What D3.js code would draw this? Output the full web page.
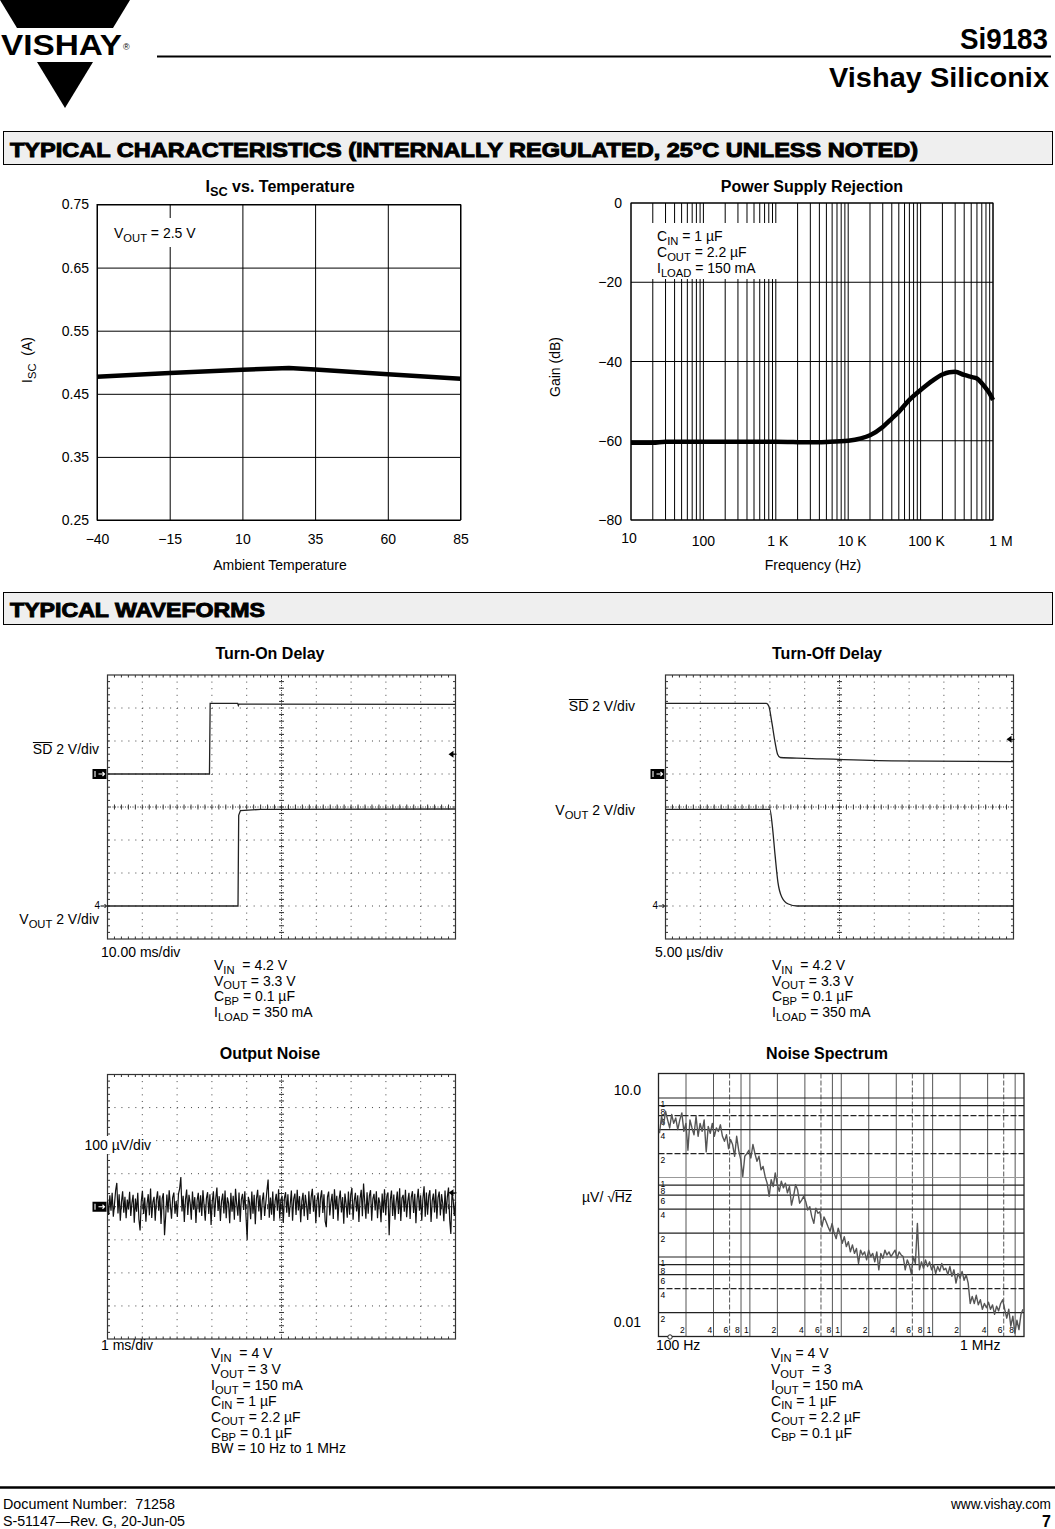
<!DOCTYPE html>
<html>
<head>
<meta charset="utf-8">
<script src="https://cdn.jsdelivr.net/npm/d3@7"></script>
<style>
body { margin: 0; background: #fff; }
svg text { font-family: "Liberation Sans", Arial, Helvetica, sans-serif; white-space: pre; fill: #000; }
</style>
</head>
<body>
<script>
"use strict";

// ---------------- ISC vs. Temperature
var tempC = [-40, -15, 10, 26, 35, 60, 85];
var iscA = [0.477, 0.483, 0.488, 0.491, 0.4886, 0.481, 0.474];
var tempTicks = [-40, -15, 10, 35, 60, 85];
var iscTicks = [0.25, 0.35, 0.45, 0.55, 0.65, 0.75];

// ---------------- Power Supply Rejection
var psrFreq = [10, 20, 30, 100, 1000, 3000, 5000, 10000, 15000, 20000, 30000, 40000, 50000, 70000,
    100000, 150000, 200000, 250000, 300000, 400000, 500000, 600000, 700000, 800000, 900000, 1000000];
var psrGain = [-60.5, -60.5, -60.25, -60.25, -60.25, -60.4, -60.3, -60.0, -59.4, -58.6, -56.5, -54.4, -52.7, -49.7,
    -47.2, -44.7, -43.3, -42.7, -42.6, -43.4, -43.9, -44.3, -45.5, -46.8, -48.1, -49.7];
var psrGainTicks = [0, -20, -40, -60, -80];
var psrFreqTicks = [10, 100, 1000, 10000, 100000, 1000000];
var psrFreqLabels = ["10", "100", "1 K", "10 K", "100 K", "1 M"];

// ---------------- Turn-On Delay (time in divisions, volts)
var onSdTime = [0, 2.93, 2.95, 3.74, 3.76, 3.78, 10];
var onSdVolts = [0, 0, 4.28, 4.28, 4.15, 4.24, 4.22];
var onVoutTime = [0, 3.75, 3.77, 3.82, 4.4, 10];
var onVoutVolts = [0, 0, 5.5, 5.78, 5.86, 5.88];
var onTrigVolts = 1.2;

// ---------------- Turn-Off Delay
var offSdTime = [0, 2.9, 2.97, 3.05, 3.15, 3.22, 3.3, 4.0, 6.5, 10];
var offSdVolts = [4.28, 4.28, 4.1, 3.2, 1.9, 1.2, 1.0, 0.95, 0.8, 0.75];
var offVoutTime = [0, 3.0, 3.07, 3.15, 3.23, 3.34, 3.53, 3.78, 10];
var offVoutVolts = [5.86, 5.86, 4.85, 3.05, 1.45, 0.55, 0.12, 0, 0];
var offTrigVolts = 2.1;

// ---------------- Output Noise (µV, samples across 10 divisions)
var noiseUv = [
    18, -25, 35, -12, 42, -30, 8, 50, 72, -20, 38, -42, 14, 47, -18, 30, -35, 22, -8, 45,
    -28, 12, 36, -48, 25, -15, 42, -38, -72, 16, 48, -22, 28, -45, 9, 38, -26, 55, -34, 14,
    30, -42, 20, 47, -12, 34, -52, 25, 41, -86, -28, 37, -17, 50, 6, -36, 28, 43, -21, 17,
    -31, 39, 55, 90, -14, 33, -46, 21, 52, -25, 36, 12, -39, 46, -9, 29, -49, 19, 42, -17,
    35, -28, 50, 3, -42, 26, 44, -22, 38, -55, 15, 47, -31, 24, 58, -13, 32, -43, 18, 40,
    -20, 49, -35, 28, 11, -50, 42, -15, 33, -39, 54, 8, -27, 43, -46, 22, 39, -10, 47, -29,
    -100, 30, 14, -38, 46, -21, 36, -53, 25, 51, -14, 35, -40, 19, 43, -28, 12, 50, 82, -33,
    28, -24, 46, -43, 17, 39, -12, 53, -36, 21, 33, -49, 26, 44, -18, 38, -31, 8, 49, -42,
    24, 40, -25, 51, -11, 32, -47, 18, 42, -29, 36, 6, -40, 47, -22, 29, 54, -15, 35, -50,
    19, 43, -32, 26, 50, -19, 38, -44, -62, 30, 46, -26, 14, 39, -37, 53, -8, 33, -42, 22,
    49, -17, 29, -51, 40, 10, -33, 46, -24, 36, 57, -39, 18, 42, -14, 35, -46, 25, 51, -29,
    70, 15, -36, 44, -21, 33, 50, -42, 24, 39, -11, 47, -35, 28, 11, -47, 40, -18, 53, -26,
    32, 43, -86, 21, 49, -28, 37, -39, 14, 46, -22, 56, -43, 26, 36, -15, 51, -32, 17, 42,
    -37, 29, 47, -19, 39, -50, 22, 54, -12, 35, -42, 25, 62, -30, 43, -24, 33, 50, -46, 18,
    40, -17, 53, -36, 28, 46, -26, 38, 11, -44, 49, -21, 30, 58, -39, -82, 42, 21, -28, 14
];
var noiseTrigUv = 42;

// ---------------- Noise Spectrum (µV/√Hz, sweep from 100 Hz to 1 MHz)
var spectrumUv = [
    3.6, 5.9, 4.6, 6.8, 5.3, 4.2, 6.2, 4.8, 5.6, 4.0, 5.3,
    6.5, 3.8, 4.8, 2.2, 5.3, 4.2, 3.45, 5.9, 3.3, 4.8,
    3.8, 5.3, 2.1, 4.4, 3.6, 4.8, 3.3, 4.2, 3.8, 4.6,
    3.3, 2.85, 3.45, 2.3, 3.0, 2.6, 1.85, 3.3, 2.2, 1.68,
    1.03, 1.85, 2.0, 2.2, 1.76, 2.6, 2.0, 1.6, 1.85, 1.25,
    1.38, 1.03, 0.85, 0.58, 0.94, 0.77, 1.14, 0.81, 0.67, 0.9,
    0.74, 0.85, 0.64, 0.77, 0.45, 0.58, 0.81, 0.70, 0.475, 0.52,
    0.58, 0.5, 0.39, 0.43, 0.32, 0.265, 0.41, 0.355, 0.37, 0.24,
    0.32, 0.28, 0.24, 0.21, 0.265, 0.20, 0.17, 0.23, 0.19, 0.149,
    0.18, 0.135, 0.156, 0.116, 0.142, 0.111, 0.128, 0.083, 0.122, 0.106,
    0.116, 0.092, 0.122, 0.101, 0.111, 0.087, 0.116, 0.069, 0.111, 0.096,
    0.122, 0.106, 0.116, 0.101, 0.111, 0.122, 0.096, 0.116, 0.106, 0.101,
    0.069, 0.092, 0.08, 0.062, 0.101, 0.083, 0.265, 0.069, 0.087, 0.072,
    0.092, 0.076, 0.087, 0.069, 0.08, 0.062, 0.076, 0.066, 0.083, 0.069,
    0.072, 0.06, 0.076, 0.057, 0.069, 0.047, 0.062, 0.054, 0.066, 0.051,
    0.06, 0.047, 0.026, 0.032, 0.026, 0.033, 0.025, 0.029, 0.022, 0.026,
    0.023, 0.027, 0.022, 0.025, 0.019, 0.024, 0.021, 0.026, 0.029, 0.022,
    0.017, 0.022, 0.0135, 0.018, 0.011, 0.016, 0.0122, 0.019, 0.022
];
var spectrumFreqRange = [100, 1000000];
var spectrumDecades = [100, 1000, 10000, 100000];
var spectrumColMult = [2, 4, 6, 8];
var spectrumRowDecades = [10, 1, 0.1];
var spectrumRowMult = [1, 8, 6, 4, 2];

// ---------------- condition blocks
var onConditions = ["V_{IN}  = 4.2 V", "V_{OUT} = 3.3 V", "C_{BP} = 0.1 µF", "I_{LOAD} = 350 mA"];
var offConditions = ["V_{IN}  = 4.2 V", "V_{OUT} = 3.3 V", "C_{BP} = 0.1 µF", "I_{LOAD} = 350 mA"];
var noiseConditions = ["V_{IN}  = 4 V", "V_{OUT} = 3 V", "I_{OUT} = 150 mA", "C_{IN} = 1 µF",
    "C_{OUT} = 2.2 µF", "C_{BP} = 0.1 µF", "BW = 10 Hz to 1 MHz"];
var spectrumConditions = ["V_{IN} = 4 V", "V_{OUT}  = 3", "I_{OUT} = 150 mA", "C_{IN} = 1 µF",
    "C_{OUT} = 2.2 µF", "C_{BP} = 0.1 µF"];
var psrConditions = ["C_{IN} = 1 µF", "C_{OUT} = 2.2 µF", "I_{LOAD} = 150 mA"];

var W = 1055, H = 1529;
var svg = d3.select("body").append("svg")
    .attr("width", W)
    .attr("height", H);
svg.append("rect").attr("width", W).attr("height", H).attr("fill", "#fff");

// text with _{sub} parts
function rich(g, x, y, str, size, anchor, weight) {
    var t = g.append("text")
        .attr("x", x).attr("y", y)
        .attr("font-size", size)
        .attr("text-anchor", anchor || "start");
    if (weight) t.attr("font-weight", weight);
    var shifted = false;
    str.split(/(_\{[^}]*\})/).forEach(function(p){
        if (!p) return;
        if (p.indexOf("_{") === 0) {
            t.append("tspan").attr("dy", shifted ? 0 : size * 0.27).attr("font-size", size * 0.8).text(p.slice(2, -1));
            shifted = true;
        } else {
            t.append("tspan").attr("dy", shifted ? -size * 0.27 : 0).text(p);
            shifted = false;
        }
    });
    return t;
}

function overline(t, from, to, size) {
    var n = t.node();
    var a = n.getStartPositionOfChar(from), b = n.getEndPositionOfChar(to);
    svg.append("line")
        .attr("x1", a.x).attr("x2", b.x)
        .attr("y1", a.y - size * 0.82).attr("y2", a.y - size * 0.82)
        .attr("stroke", "#000").attr("stroke-width", 1);
}

function block(x, y, lines, step) {
    lines.forEach(function(s, i){
        rich(svg, x, y + i * step, s, 14);
    });
}

function minus(d) { return d < 0 ? "\u2212" + Math.abs(d) : "" + d; }

//=========================== header
svg.append("path").attr("d", "M0,0H130L113,28H17Z").attr("fill", "#000");
svg.append("path").attr("d", "M37,62H93L65,108Z").attr("fill", "#000");
svg.append("text").attr("x", 1).attr("y", 55).attr("font-size", 29).attr("font-weight", "bold")
    .attr("textLength", 121).attr("lengthAdjust", "spacingAndGlyphs").text("VISHAY");
svg.append("text").attr("x", 123).attr("y", 50).attr("font-size", 9).text("®");
svg.append("text").attr("x", 960).attr("y", 49).attr("font-size", 30).attr("font-weight", "bold")
    .attr("textLength", 88).attr("lengthAdjust", "spacingAndGlyphs").text("Si9183");
svg.append("line").attr("x1", 157).attr("x2", 1051).attr("y1", 56.5).attr("y2", 56.5)
    .attr("stroke", "#000").attr("stroke-width", 2);
svg.append("text").attr("x", 829).attr("y", 87).attr("font-size", 28).attr("font-weight", "bold")
    .attr("textLength", 220).attr("lengthAdjust", "spacingAndGlyphs").text("Vishay Siliconix");

function sectionBar(y, h, label, len) {
    svg.append("rect").attr("x", 3.5).attr("y", y).attr("width", 1049).attr("height", h)
        .attr("fill", "#efefef").attr("stroke", "#000").attr("stroke-width", 1);
    svg.append("text").attr("x", 10).attr("y", y + h - 8).attr("font-size", 21).attr("font-weight", "bold")
        .attr("stroke", "#000").attr("stroke-width", 1)
        .attr("textLength", len).attr("lengthAdjust", "spacingAndGlyphs").text(label);
}
sectionBar(131.5, 33, "TYPICAL CHARACTERISTICS (INTERNALLY REGULATED, 25°C UNLESS NOTED)", 908);
sectionBar(592.5, 32, "TYPICAL WAVEFORMS", 255);

//=========================== ISC vs. Temperature
var iscX = d3.scaleLinear().domain([-40, 85]).range([97, 460.5]);
var iscY = d3.scaleLinear().domain([0.25, 0.75]).range([520, 204.5]);
var gI = svg.append("g");

gI.append("g").attr("transform", "translate(97,0)")
    .call(d3.axisLeft(iscY).tickValues(iscTicks).tickSize(-(460.5 - 97)).tickPadding(8).tickFormat(d3.format(".2f")));
gI.append("g").attr("transform", "translate(0,520)")
    .call(d3.axisBottom(iscX).tickValues(tempTicks).tickSize(-(520 - 204.5)).tickPadding(14).tickFormat(minus));
gI.selectAll(".domain").remove();
gI.selectAll(".tick line").attr("stroke", "#000").attr("stroke-width", 1);
gI.selectAll(".tick text").attr("font-size", 14).attr("font-family", null);
gI.append("rect").attr("x", 97).attr("y", 204.5).attr("width", 460.5 - 97).attr("height", 520 - 204.5)
    .attr("fill", "none").attr("stroke", "#000");

gI.append("rect").attr("x", 111).attr("y", 218).attr("width", 90).attr("height", 29).attr("fill", "#fff");
rich(gI, 114, 238, "V_{OUT} = 2.5 V", 14);

gI.append("path")
    .datum(tempC.map(function(t, i){ return [t, iscA[i]]; }))
    .attr("fill", "none").attr("stroke", "#000").attr("stroke-width", 4.5).attr("stroke-linejoin", "round")
    .attr("d", d3.line().x(function(d){ return iscX(d[0]); }).y(function(d){ return iscY(d[1]); }));

rich(gI, 280, 191.5, "I_{SC} vs. Temperature", 16, "middle", "bold");
gI.append("text").attr("x", 280).attr("y", 570).attr("font-size", 14).attr("text-anchor", "middle").text("Ambient Temperature");
rich(gI.append("g").attr("transform", "translate(32,360) rotate(-90)"), 0, 0, "I_{SC}  (A)", 14, "middle");

//=========================== Power Supply Rejection
var psrX = d3.scaleLog().domain([10, 1e6]).range([631, 993]);
var psrY = d3.scaleLinear().domain([-80, 0]).range([520, 203]);
var gP = svg.append("g");

gP.selectAll(".vgrid").data(psrX.ticks()).enter().append("line")
    .attr("x1", function(d){ return psrX(d); }).attr("x2", function(d){ return psrX(d); })
    .attr("y1", psrY(0)).attr("y2", psrY(-80))
    .attr("stroke", "#000").attr("stroke-width", 1);
gP.selectAll(".hgrid").data(psrGainTicks).enter().append("line")
    .attr("x1", psrX(10)).attr("x2", psrX(1e6))
    .attr("y1", function(d){ return psrY(d); }).attr("y2", function(d){ return psrY(d); })
    .attr("stroke", "#000").attr("stroke-width", 1);
gP.append("rect").attr("x", psrX(10)).attr("y", psrY(0)).attr("width", psrX(1e6) - psrX(10)).attr("height", psrY(-80) - psrY(0))
    .attr("fill", "none").attr("stroke", "#000");

// annotation box breaks the grid
gP.append("rect").attr("x", 640).attr("y", 223).attr("width", 139).attr("height", 56).attr("fill", "#fff");
psrConditions.forEach(function(s, i){ rich(gP, 657, 241 + i * 16, s, 14); });

gP.append("path")
    .datum(psrFreq.map(function(f, i){ return [f, psrGain[i]]; }))
    .attr("fill", "none").attr("stroke", "#000").attr("stroke-width", 4.5).attr("stroke-linejoin", "round")
    .attr("d", d3.line().curve(d3.curveMonotoneX).x(function(d){ return psrX(d[0]); }).y(function(d){ return psrY(d[1]); }));

gP.selectAll(".ylab").data(psrGainTicks).enter().append("text")
    .attr("x", 622).attr("y", function(d){ return psrY(d) + 5; })
    .attr("text-anchor", "end").attr("font-size", 14).text(minus);
gP.selectAll(".xlab").data(psrFreqTicks).enter().append("text")
    .attr("x", function(d, i){ return psrX(d) + i * 2 - 2; })
    .attr("y", function(d, i){ return i === 0 ? 543 : 546; })
    .attr("text-anchor", "middle").attr("font-size", 14)
    .text(function(d, i){ return psrFreqLabels[i]; });

gP.append("text").attr("x", 812).attr("y", 191.5).attr("font-size", 16).attr("font-weight", "bold")
    .attr("text-anchor", "middle").text("Power Supply Rejection");
gP.append("text").attr("x", 813).attr("y", 570).attr("font-size", 14).attr("text-anchor", "middle").text("Frequency (Hz)");
gP.append("text").attr("transform", "translate(560,367) rotate(-90)").attr("font-size", 14)
    .attr("text-anchor", "middle").text("Gain (dB)");

//=========================== scope graticule
function scope(x0, y0, w, h) {
    var g = svg.append("g").attr("transform", "translate(" + x0 + "," + y0 + ")");
    var sx = d3.scaleLinear().domain([0, 10]).range([0, w]);
    var sy = d3.scaleLinear().domain([-4, 4]).range([h, 0]);
    var mx = w / 50, my = h / 40;

    d3.range(1, 10).forEach(function(i){
        if (i === 5) return;
        g.append("line").attr("x1", sx(i)).attr("x2", sx(i)).attr("y1", 0).attr("y2", h)
            .attr("stroke", "#444").attr("stroke-width", 1).attr("stroke-dasharray", "1," + (my - 1));
    });
    d3.range(-3, 4).forEach(function(i){
        if (i === 0) return;
        g.append("line").attr("x1", 0).attr("x2", w).attr("y1", sy(i)).attr("y2", sy(i))
            .attr("stroke", "#444").attr("stroke-width", 1).attr("stroke-dasharray", "1," + (mx - 1));
    });
    // centre cross with minor ticks
    g.append("line").attr("x1", sx(5)).attr("x2", sx(5)).attr("y1", 0).attr("y2", h)
        .attr("stroke", "#333").attr("stroke-width", 1).attr("stroke-dasharray", "1,1.5");
    g.append("line").attr("x1", 0).attr("x2", w).attr("y1", sy(0)).attr("y2", sy(0))
        .attr("stroke", "#333").attr("stroke-width", 1).attr("stroke-dasharray", "1,1.5");
    var ticks = "";
    d3.range(1, 40).forEach(function(k){
        ticks += "M" + (sx(5) - 2.5) + "," + (k * my) + "h5";
        ticks += "M0," + (k * my) + "h2.5M" + w + "," + (k * my) + "h-2.5";
    });
    d3.range(1, 50).forEach(function(k){
        ticks += "M" + (k * mx) + "," + (sy(0) - 2.5) + "v5";
        ticks += "M" + (k * mx) + ",0v2.5M" + (k * mx) + "," + h + "v-2.5";
    });
    g.append("path").attr("d", ticks).attr("stroke", "#333").attr("stroke-width", 1);
    g.append("rect").attr("width", w).attr("height", h).attr("fill", "none").attr("stroke", "#333").attr("stroke-width", 1.2);
    return { g: g, sx: sx, sy: sy, w: w, h: h };
}

function trace(s, times, values, perDiv, refDiv, curve, color) {
    s.g.append("path")
        .datum(times.map(function(t, i){ return [t, values[i]]; }))
        .attr("fill", "none").attr("stroke", color || "#222").attr("stroke-width", 1.3)
        .attr("d", d3.line().curve(curve || d3.curveLinear)
            .x(function(d){ return s.sx(d[0]); })
            .y(function(d){ return s.sy(d[1] / perDiv + refDiv); }));
}

function marker1(s, refDiv) {
    var y = s.sy(refDiv);
    s.g.append("rect").attr("x", -15).attr("y", y - 5).attr("width", 14).attr("height", 10).attr("fill", "#000");
    s.g.append("path").attr("d", "M-12.5," + (y - 3) + "v6M-9," + y + "h6M-5," + (y - 2) + "l2,2l-2,2")
        .attr("stroke", "#fff").attr("stroke-width", 1.1).attr("fill", "none");
}
function marker4(s, refDiv) {
    var y = s.sy(refDiv);
    s.g.append("text").attr("x", -13).attr("y", y + 3).attr("font-size", 10).text("4");
    s.g.append("path").attr("d", "M-7," + y + "h6M-3," + (y - 2) + "l2,2l-2,2")
        .attr("stroke", "#000").attr("stroke-width", 1).attr("fill", "none");
}
function trigger(s, level) {
    var x = s.w - 7, y = s.sy(level);
    s.g.append("path").attr("d", "M" + x + "," + y + "l5,-3.5v7Z").attr("fill", "#000");
    s.g.append("line").attr("x1", x + 4).attr("x2", x + 8).attr("y1", y).attr("y2", y).attr("stroke", "#000");
}

//=========================== Turn-On Delay
var sOn = scope(107.5, 675, 348, 264);
trace(sOn, onSdTime, onSdVolts, 2, 1);
trace(sOn, onVoutTime, onVoutVolts, 2, -3);
marker1(sOn, 1);
marker4(sOn, -3);
trigger(sOn, onTrigVolts / 2 + 1);
svg.append("text").attr("x", 270).attr("y", 659).attr("font-size", 16).attr("font-weight", "bold")
    .attr("text-anchor", "middle").text("Turn-On Delay");
var tOnSd = svg.append("text").attr("x", 99).attr("y", 754).attr("font-size", 14).attr("text-anchor", "end").text("SD 2 V/div");
overline(tOnSd, 0, 1, 14);
rich(svg, 99, 924, "V_{OUT} 2 V/div", 14, "end");
svg.append("text").attr("x", 101).attr("y", 957).attr("font-size", 14).text("10.00 ms/div");
block(214, 970, onConditions, 15.6);

//=========================== Turn-Off Delay
var sOff = scope(665.5, 675, 348, 264);
trace(sOff, offSdTime, offSdVolts, 2, 1, d3.curveMonotoneX);
trace(sOff, offVoutTime, offVoutVolts, 2, -3, d3.curveMonotoneX);
marker1(sOff, 1);
marker4(sOff, -3);
trigger(sOff, offTrigVolts / 2 + 1);
svg.append("text").attr("x", 827).attr("y", 659).attr("font-size", 16).attr("font-weight", "bold")
    .attr("text-anchor", "middle").text("Turn-Off Delay");
var tOffSd = svg.append("text").attr("x", 635).attr("y", 711).attr("font-size", 14).attr("text-anchor", "end").text("SD 2 V/div");
overline(tOffSd, 0, 1, 14);
rich(svg, 635, 815, "V_{OUT} 2 V/div", 14, "end");
svg.append("text").attr("x", 655).attr("y", 957).attr("font-size", 14).text("5.00 µs/div");
block(772, 970, offConditions, 15.6);

//=========================== Output Noise
var sNoise = scope(107.5, 1074.5, 348, 264.5);
var noiseX = d3.scaleLinear().domain([0, noiseUv.length - 1]).range([0, 348]);
sNoise.g.append("path")
    .datum(noiseUv)
    .attr("fill", "none").attr("stroke", "#111").attr("stroke-width", 1.2)
    .attr("d", d3.line().x(function(d, i){ return noiseX(i); }).y(function(d){ return sNoise.sy(d / 100); }));
marker1(sNoise, 0);
trigger(sNoise, noiseTrigUv / 100);
svg.append("text").attr("x", 270).attr("y", 1059).attr("font-size", 16).attr("font-weight", "bold")
    .attr("text-anchor", "middle").text("Output Noise");
svg.append("rect").attr("x", 73).attr("y", 1136).attr("width", 80).attr("height", 18).attr("fill", "#fff");
svg.append("text").attr("x", 151).attr("y", 1150).attr("font-size", 14).attr("text-anchor", "end").text("100 µV/div");
svg.append("rect").attr("x", 99).attr("y", 1340).attr("width", 60).attr("height", 12).attr("fill", "#fff");
svg.append("text").attr("x", 101).attr("y", 1350).attr("font-size", 14).text("1 ms/div");
block(211, 1358, noiseConditions, 15.9);

//=========================== Noise Spectrum
var spX = d3.scaleLog().domain(spectrumFreqRange).range([658.5, 1024]);
var spY = d3.scaleLog().domain([0.01, 10]).range([1336.5, 1098]);
var spTop = 1073.5;
var gS = svg.append("g");

spectrumDecades.forEach(function(dec){
    spectrumColMult.concat([10]).forEach(function(m){
        var f = m * dec;
        if (f >= spectrumFreqRange[1]) return;
        gS.append("line").attr("x1", spX(f)).attr("x2", spX(f)).attr("y1", spTop).attr("y2", spY(0.01))
            .attr("stroke", "#555").attr("stroke-width", 1)
            .attr("stroke-dasharray", m === 6 ? "5,2" : null);
    });
});
spectrumRowDecades.forEach(function(dec, k){
    spectrumRowMult.forEach(function(m){
        var v = m === 1 ? dec : m * dec / 10;
        gS.append("line").attr("x1", spX(100)).attr("x2", spX(1e6)).attr("y1", spY(v)).attr("y2", spY(v))
            .attr("stroke", m === 1 && k === 1 ? "#999" : "#222").attr("stroke-width", 1.2)
            .attr("stroke-dasharray", (m === 2 && k === 0) || (m === 6 && k === 0) || (m === 4 && k === 2) ? "6,2" : null);
        gS.append("text").attr("x", 660.5).attr("y", spY(v) + 9).attr("font-size", 8.5).attr("fill", "#222").text(m);
    });
});
spectrumDecades.forEach(function(dec){
    spectrumColMult.concat([10]).forEach(function(m){
        var f = m * dec;
        if (f >= spectrumFreqRange[1]) return;
        gS.append("text").attr("x", spX(f) - 6).attr("y", 1333).attr("font-size", 8.5).attr("fill", "#222")
            .text(m === 10 ? 1 : m);
    });
});
gS.append("rect").attr("x", spX(100)).attr("y", spTop).attr("width", spX(1e6) - spX(100)).attr("height", spY(0.01) - spTop)
    .attr("fill", "none").attr("stroke", "#222").attr("stroke-width", 1.3);
gS.append("circle").attr("cx", 670).attr("cy", 1337).attr("r", 2.2).attr("fill", "#fff").attr("stroke", "#222");

var spI = d3.scaleLinear().domain([0, spectrumUv.length - 1]).range([spX(100) + 1, spX(1e6) - 1]);
gS.append("path")
    .datum(spectrumUv)
    .attr("fill", "none").attr("stroke", "#555").attr("stroke-width", 1.4).attr("stroke-linejoin", "round")
    .attr("d", d3.line().x(function(d, i){ return spI(i); }).y(function(d){ return spY(d); }));

svg.append("text").attr("x", 827).attr("y", 1059).attr("font-size", 16).attr("font-weight", "bold")
    .attr("text-anchor", "middle").text("Noise Spectrum");
svg.append("text").attr("x", 641).attr("y", 1095).attr("font-size", 14).attr("text-anchor", "end").text("10.0");
svg.append("text").attr("x", 641).attr("y", 1327).attr("font-size", 14).attr("text-anchor", "end").text("0.01");
var tUnit = svg.append("text").attr("x", 582).attr("y", 1202).attr("font-size", 14).text("µV/ \u221AHz");
overline(tUnit, 5, 6, 14);
svg.append("text").attr("x", 656).attr("y", 1350).attr("font-size", 14).text("100 Hz");
svg.append("text").attr("x", 960).attr("y", 1350).attr("font-size", 14).text("1 MHz");
block(771, 1358, spectrumConditions, 15.9);

//=========================== footer
svg.append("line").attr("x1", 0).attr("x2", W).attr("y1", 1487.5).attr("y2", 1487.5)
    .attr("stroke", "#000").attr("stroke-width", 2.5);
svg.append("text").attr("x", 3).attr("y", 1509).attr("font-size", 14)
    .attr("textLength", 172).attr("lengthAdjust", "spacingAndGlyphs").text("Document Number:  71258");
svg.append("text").attr("x", 3).attr("y", 1526).attr("font-size", 14)
    .attr("textLength", 182).attr("lengthAdjust", "spacingAndGlyphs").text("S-51147\u2014Rev. G, 20-Jun-05");
svg.append("text").attr("x", 951).attr("y", 1509).attr("font-size", 14)
    .attr("textLength", 100).attr("lengthAdjust", "spacingAndGlyphs").text("www.vishay.com");
svg.append("text").attr("x", 1051).attr("y", 1527).attr("font-size", 16).attr("font-weight", "bold")
    .attr("text-anchor", "end").text("7");
</script>
</body>
</html>
